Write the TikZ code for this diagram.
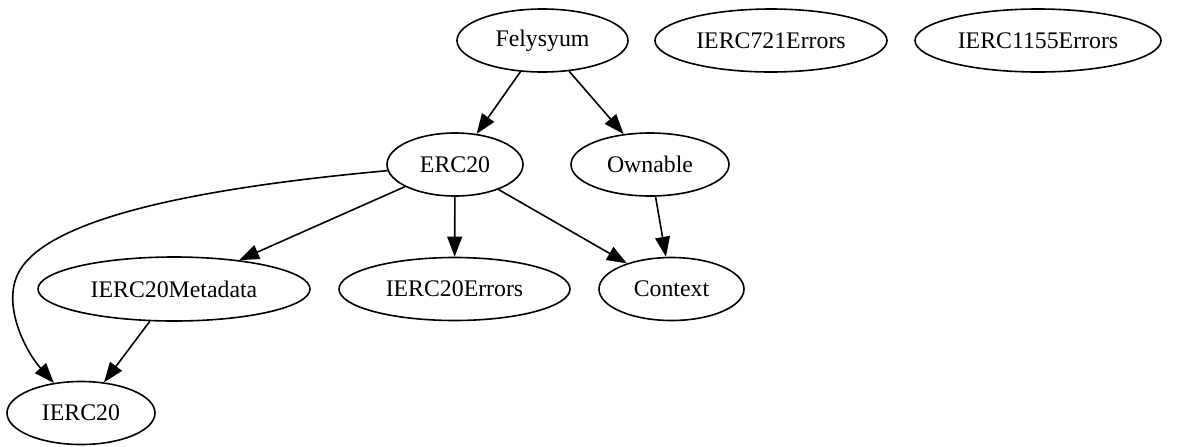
\documentclass[tikz,border=0pt]{standalone}
\usepackage{fontspec}
\setmainfont{Liberation Serif}
\usetikzlibrary{shapes.geometric,arrows.meta}
\begin{document}
\begin{tikzpicture}[x=0.5pt,y=-0.5pt,
  nd/.style={draw,ellipse,inner sep=0pt,line width=0.8pt,font=\fontsize{11.9}{13}\selectfont},
  ed/.style={line width=0.8pt,-{Triangle[length=10pt,width=7.4pt]}}]
\useasboundingbox (0,0) rectangle (1201,446);
\node[nd,minimum width=85.5pt,minimum height=31.5pt] (fel) at (542.5,40.5) {Felysyum};
\node[nd,minimum width=116pt,minimum height=31.5pt] (e721) at (771,40.5) {IERC721Errors};
\node[nd,minimum width=123pt,minimum height=31.5pt] (e1155) at (1038,40.5) {IERC1155Errors};
\node[nd,minimum width=68pt,minimum height=31.5pt] (erc) at (455,164.5) {ERC20};
\node[nd,minimum width=79pt,minimum height=31.5pt] (own) at (650,164.5) {Ownable};
\node[nd,minimum width=136pt,minimum height=32pt] (meta) at (174,289) {IERC20Metadata};
\node[nd,minimum width=115.5pt,minimum height=31.5pt] (errs) at (454.5,289) {IERC20Errors};
\node[nd,minimum width=72.5pt,minimum height=31.5pt] (ctx) at (671.5,289) {Context};
\node[nd,minimum width=74pt,minimum height=31.5pt] (ierc) at (81,413) {IERC20};
\draw[ed] (fel) -- (erc);
\draw[ed] (fel) -- (own);
\draw[ed] (erc) .. controls (230,185) and (55,212) .. (20,270) .. controls (0,303) and (26,352) .. (ierc);
\draw[ed] (erc) -- (meta);
\draw[ed] (erc) -- (errs);
\draw[ed] (erc) -- (ctx);
\draw[ed] (own) -- (ctx);
\draw[ed] (meta) -- (ierc);
\end{tikzpicture}
\end{document}
